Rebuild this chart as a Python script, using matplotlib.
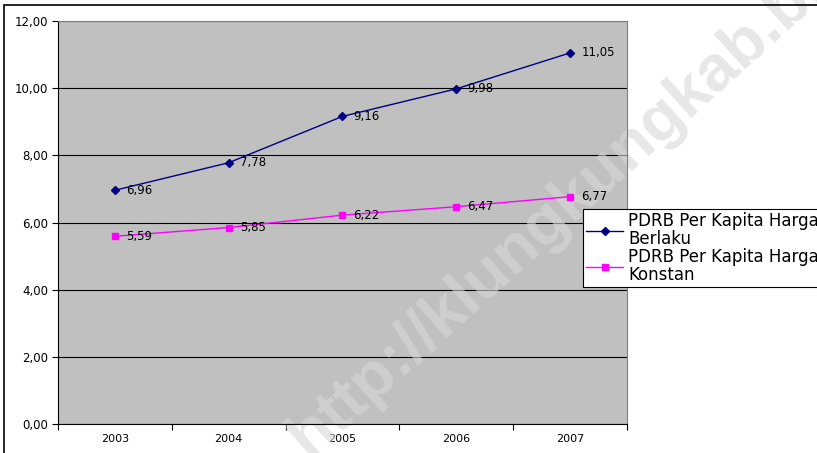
import matplotlib
matplotlib.use("Agg")
import matplotlib.pyplot as plt
from matplotlib.patches import Rectangle
from matplotlib.ticker import FixedLocator, NullFormatter, FuncFormatter

years = ["2003", "2004", "2005", "2006", "2007"]
berlaku = [6.96, 7.78, 9.16, 9.98, 11.05]
konstan = [5.59, 5.85, 6.22, 6.47, 6.77]
label_berlaku = "PDRB Per Kapita Harga\nBerlaku"
label_konstan = "PDRB Per Kapita Harga\nKonstan"
watermark = "http://klungkungkab.bps.go.id"

plt.rcParams['font.family'] = ['DejaVu Sans']

fig = plt.figure(figsize=(8.17, 4.53), dpi=100)
W, H = 817, 453
ax = fig.add_axes([58 / W, (H - 424) / H, (627 - 58) / W, (424 - 21) / H])
ax.set_facecolor('#c0c0c0')

x = list(range(len(years)))
ax.plot(x, berlaku, color='#000080', marker='D', markersize=4, linewidth=1, label=label_berlaku, zorder=3)
ax.plot(x, konstan, color='#ff00ff', marker='s', markersize=4.5, linewidth=1, label=label_konstan, zorder=3)

for xi, v in zip(x, berlaku):
    ax.annotate(f"{v:.2f}".replace('.', ','), (xi, v), xytext=(8, 0), textcoords='offset points',
                va='center', ha='left', fontsize=8.5, color='black', zorder=4)
for xi, v in zip(x, konstan):
    ax.annotate(f"{v:.2f}".replace('.', ','), (xi, v), xytext=(8, 0), textcoords='offset points',
                va='center', ha='left', fontsize=8.5, color='black', zorder=4)

ax.set_xlim(-0.5, len(years) - 0.5)
ax.set_ylim(0, 12)
ax.set_yticks([0, 2, 4, 6, 8, 10, 12])
ax.yaxis.set_major_formatter(FuncFormatter(lambda v, p: f"{v:.2f}".replace('.', ',')))
ax.grid(axis='y', color='black', linewidth=0.8)
ax.set_axisbelow(True)

ax.xaxis.set_major_locator(FixedLocator([i - 0.5 for i in range(len(years) + 1)]))
ax.xaxis.set_major_formatter(NullFormatter())
ax.xaxis.set_minor_locator(FixedLocator(x))
ax.set_xticklabels(years, minor=True)
ax.tick_params(axis='x', which='minor', length=0, labelsize=8, pad=7)
ax.tick_params(axis='x', which='major', length=4, direction='out', color='black')
ax.tick_params(axis='y', length=4, direction='out', labelsize=8.5, pad=3)

for s in ['top', 'right']:
    ax.spines[s].set_color('#808080')
for s in ['left', 'bottom']:
    ax.spines[s].set_color('black')

leg = fig.legend(loc='upper left', bbox_to_anchor=(583 / W, (H - 209) / H), fontsize=12,
                 frameon=True, fancybox=False, edgecolor='black', framealpha=1,
                 borderaxespad=0, handlelength=2.2, borderpad=0.2, labelspacing=0.05,
                 handletextpad=0.3)
leg.get_frame().set_linewidth(0.8)
for t in leg.get_texts():
    t.set_linespacing(0.95)

fig.patches.append(Rectangle((4 / W, -0.1), 1.2, (H - 5) / H + 0.1, transform=fig.transFigure,
                             fill=False, edgecolor='black', linewidth=1.2))

ax.text(318 / W, (H - 468) / H, watermark, rotation=42, fontsize=47, fontweight='bold',
        family='Liberation Sans', color='#d8d8d8', alpha=0.6, ha='left', va='bottom',
        rotation_mode='anchor', zorder=2, transform=fig.transFigure, clip_on=False)

fig.savefig("out.png", dpi=100)
